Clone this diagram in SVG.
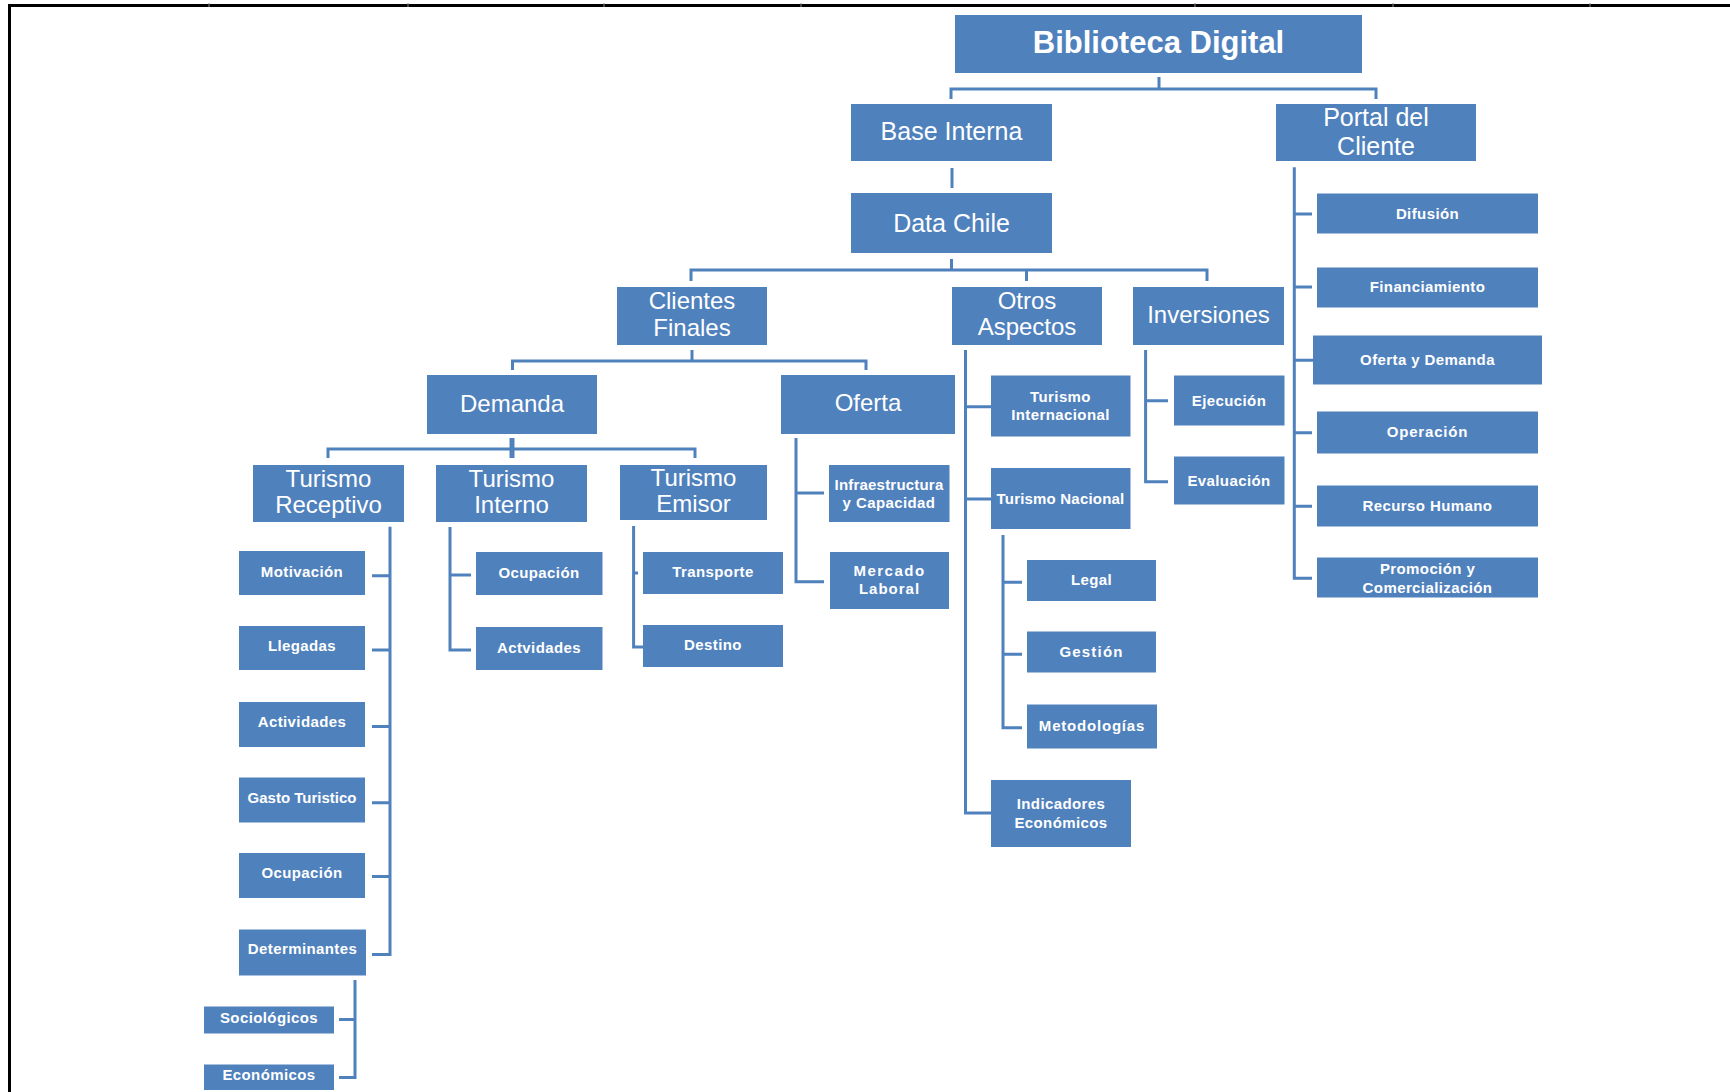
<svg xmlns="http://www.w3.org/2000/svg" width="1730" height="1092" viewBox="0 0 1730 1092">
  <style>
    .box { fill: #4f81bd; }
    .frame { stroke: #000; stroke-width: 3; fill: none; }
    .tick { stroke: #888; stroke-width: 1; }
    .ln { stroke: #4f81bd; stroke-width: 3; fill: none; }
    text { fill: #fff; font-family: "Liberation Sans", Arial, sans-serif; text-anchor: middle; }
    .xl { font-size: 31px; font-weight: bold; }
    .l { font-size: 25px; }
    .m { font-size: 24px; }
    .s { font-size: 15px; font-weight: bold; letter-spacing: 0.4px; }
  </style>

  <rect width="1730" height="1092" fill="#fff"/>

  <!-- sheet border -->
  <path class="frame" d="M9.5 1092 V5.5 H1730"/>
  <g>
    <line class="tick" x1="209" y1="3" x2="209" y2="7"/>
    <line class="tick" x1="408" y1="3" x2="408" y2="7"/>
    <line class="tick" x1="604" y1="3" x2="604" y2="7"/>
    <line class="tick" x1="801" y1="3" x2="801" y2="7"/>
    <line class="tick" x1="1195" y1="3" x2="1195" y2="7"/>
    <line class="tick" x1="1393" y1="3" x2="1393" y2="7"/>
    <line class="tick" x1="1590" y1="3" x2="1590" y2="7"/>
  </g>

  <!-- connectors -->
  <g id="connectors">
    <!-- Biblioteca Digital -->
    <path class="ln" d="M1159 77 V89 M951 99 V89 H1376 V99"/>
    <!-- Base Interna to Data Chile -->
    <path class="ln" d="M952 168 V188"/>
    <!-- Data Chile -->
    <path class="ln" d="M951.5 259 V270 M691 281 V270 H1207 V281 M1026.5 270 V281"/>
    <!-- Clientes Finales -->
    <path class="ln" d="M692 350 V361 M512.5 370 V361 H866 V370"/>
    <!-- Demanda -->
    <path class="ln" d="M328 458 V449 H695 V458"/>
    <path class="ln" style="stroke-width:5" d="M512 438 V458"/>
    <!-- Turismo Receptivo -->
    <path class="ln" d="M390 526.7 V954.5 H372 M372 575.7 H390 M372 650 H390 M372 726.5 H390 M372 802.7 H390 M372 876.4 H390"/>
    <!-- Determinantes -->
    <path class="ln" d="M355 980 V1077.4 H339 M339 1019.5 H355"/>
    <!-- Turismo Interno -->
    <path class="ln" d="M450 527 V650 H471 M450 575 H471"/>
    <!-- Turismo Emisor -->
    <path class="ln" d="M633.6 526 V647 H643 M633.6 573 H638"/>
    <!-- Oferta -->
    <path class="ln" d="M796 438 V581.7 H824 M796 493 H824"/>
    <!-- Otros Aspectos -->
    <path class="ln" d="M965.5 350 V813 H991 M965.5 406.7 H991 M965.5 499 H991"/>
    <!-- Turismo Nacional -->
    <path class="ln" d="M1003 535 V727.7 H1022 M1003 582.3 H1022 M1003 654.3 H1022"/>
    <!-- Inversiones -->
    <path class="ln" d="M1145.6 350 V481.7 H1168 M1145.6 400.7 H1168"/>
    <!-- Portal del Cliente -->
    <path class="ln" d="M1294.3 167.3 V578.3 H1312 M1294.3 214 H1312 M1294.3 287 H1312 M1294.3 360.3 H1313 M1294.3 432.7 H1312 M1294.3 506.3 H1312"/>
  </g>

  <!-- top levels -->
  <g id="biblioteca-digital">
    <rect class="box" x="955" y="15" width="407" height="58"/>
    <text class="xl" x="1158.5" y="53">Biblioteca Digital</text>
  </g>
  <g id="base-interna">
    <rect class="box" x="851" y="104" width="201" height="57"/>
    <text class="l" x="951.5" y="140">Base Interna</text>
  </g>
  <g id="portal-del-cliente">
    <rect class="box" x="1276" y="104" width="200" height="57"/>
    <text class="l" x="1376" y="126">Portal del</text>
    <text class="l" x="1376" y="155">Cliente</text>
  </g>
  <g id="data-chile">
    <rect class="box" x="851" y="193" width="201" height="60"/>
    <text class="l" x="951.5" y="231.5">Data Chile</text>
  </g>
  <g id="clientes-finales">
    <rect class="box" x="617" y="287" width="150" height="58"/>
    <text class="m" x="692" y="309">Clientes</text>
    <text class="m" x="692" y="335.5">Finales</text>
  </g>
  <g id="otros-aspectos">
    <rect class="box" x="952" y="287" width="150" height="58"/>
    <text class="m" x="1027" y="308.5">Otros</text>
    <text class="m" x="1027" y="335">Aspectos</text>
  </g>
  <g id="inversiones">
    <rect class="box" x="1133" y="287" width="151" height="58"/>
    <text class="m" x="1208.5" y="323">Inversiones</text>
  </g>
  <g id="demanda">
    <rect class="box" x="427" y="375" width="170" height="59"/>
    <text class="m" x="512" y="411.5">Demanda</text>
  </g>
  <g id="oferta">
    <rect class="box" x="781" y="375" width="174" height="59"/>
    <text class="m" x="868" y="411">Oferta</text>
  </g>
  <g id="turismo-receptivo">
    <rect class="box" x="253" y="465" width="151" height="57"/>
    <text class="m" x="328.5" y="486.5">Turismo</text>
    <text class="m" x="328.5" y="513">Receptivo</text>
  </g>
  <g id="turismo-interno">
    <rect class="box" x="436" y="465" width="151" height="57"/>
    <text class="m" x="511.5" y="486.5">Turismo</text>
    <text class="m" x="511.5" y="513">Interno</text>
  </g>
  <g id="turismo-emisor">
    <rect class="box" x="620" y="465" width="147" height="55"/>
    <text class="m" x="693.5" y="486">Turismo</text>
    <text class="m" x="693.5" y="512">Emisor</text>
  </g>

  <!-- Turismo Receptivo items -->
  <g id="motivacion">
    <rect class="box" x="239" y="551" width="126" height="44"/>
    <text class="s" x="302" y="576.5">Motivación</text>
  </g>
  <g id="llegadas">
    <rect class="box" x="239" y="626" width="126" height="44"/>
    <text class="s" x="302" y="651">Llegadas</text>
  </g>
  <g id="actividades-receptivo">
    <rect class="box" x="239" y="702" width="126" height="45"/>
    <text class="s" x="302" y="727">Actividades</text>
  </g>
  <g id="gasto-turistico">
    <rect class="box" x="239" y="777.5" width="126" height="45"/>
    <text class="s" x="302" y="802.5" style="letter-spacing:0">Gasto Turistico</text>
  </g>
  <g id="ocupacion-receptivo">
    <rect class="box" x="239" y="853" width="126" height="45"/>
    <text class="s" x="302" y="878">Ocupación</text>
  </g>
  <g id="determinantes">
    <rect class="box" x="239" y="929.5" width="127" height="46"/>
    <text class="s" x="302.5" y="954">Determinantes</text>
  </g>
  <g id="sociologicos">
    <rect class="box" x="204" y="1006.5" width="130" height="27"/>
    <text class="s" x="269" y="1023">Sociológicos</text>
  </g>
  <g id="economicos">
    <rect class="box" x="204" y="1064.5" width="130" height="25.5"/>
    <text class="s" x="269" y="1080">Económicos</text>
  </g>

  <!-- Turismo Interno items -->
  <g id="ocupacion-interno">
    <rect class="box" x="476" y="552" width="126.5" height="43"/>
    <text class="s" x="539" y="578">Ocupación</text>
  </g>
  <g id="actvidades-interno">
    <rect class="box" x="476" y="627" width="126.5" height="43"/>
    <text class="s" x="539" y="653">Actvidades</text>
  </g>

  <!-- Turismo Emisor items -->
  <g id="transporte">
    <rect class="box" x="643" y="552" width="140" height="42"/>
    <text class="s" x="713" y="577">Transporte</text>
  </g>
  <g id="destino">
    <rect class="box" x="643" y="625" width="140" height="42"/>
    <text class="s" x="713" y="649.5">Destino</text>
  </g>

  <!-- Oferta items -->
  <g id="infraestructura">
    <rect class="box" x="829" y="465" width="120.5" height="57"/>
    <text class="s" x="889" y="489.5" style="letter-spacing:0.2px">Infraestructura</text>
    <text class="s" x="889" y="507.5">y Capacidad</text>
  </g>
  <g id="mercado-laboral">
    <rect class="box" x="830" y="552" width="119" height="57"/>
    <text class="s" x="889.5" y="575.5" style="letter-spacing:1.5px">Mercado</text>
    <text class="s" x="889.5" y="594" style="letter-spacing:1px">Laboral</text>
  </g>

  <!-- Otros Aspectos items -->
  <g id="turismo-internacional">
    <rect class="box" x="991" y="375.5" width="139.5" height="61"/>
    <text class="s" x="1060.5" y="401.5">Turismo</text>
    <text class="s" x="1060.5" y="420">Internacional</text>
  </g>
  <g id="turismo-nacional">
    <rect class="box" x="991" y="468" width="139.5" height="61"/>
    <text class="s" x="1060.5" y="504" style="letter-spacing:0.2px">Turismo Nacional</text>
  </g>
  <g id="legal">
    <rect class="box" x="1027" y="560" width="129" height="41"/>
    <text class="s" x="1091.5" y="585">Legal</text>
  </g>
  <g id="gestion">
    <rect class="box" x="1027" y="631.5" width="129" height="41"/>
    <text class="s" x="1091.5" y="657" style="letter-spacing:1.2px">Gestión</text>
  </g>
  <g id="metodologias">
    <rect class="box" x="1027" y="704.5" width="130" height="44"/>
    <text class="s" x="1092" y="731" style="letter-spacing:0.8px">Metodologías</text>
  </g>
  <g id="indicadores-economicos">
    <rect class="box" x="991" y="780" width="140" height="67"/>
    <text class="s" x="1061" y="809">Indicadores</text>
    <text class="s" x="1061" y="828">Económicos</text>
  </g>

  <!-- Inversiones items -->
  <g id="ejecucion">
    <rect class="box" x="1174" y="375.5" width="110.5" height="50"/>
    <text class="s" x="1229" y="405.5">Ejecución</text>
  </g>
  <g id="evaluacion">
    <rect class="box" x="1174" y="456.5" width="110.5" height="48"/>
    <text class="s" x="1229" y="486">Evaluación</text>
  </g>

  <!-- Portal del Cliente items -->
  <g id="difusion">
    <rect class="box" x="1317" y="193.5" width="221" height="40"/>
    <text class="s" x="1427.5" y="219">Difusión</text>
  </g>
  <g id="financiamiento">
    <rect class="box" x="1317" y="267.5" width="221" height="40"/>
    <text class="s" x="1427.5" y="292">Financiamiento</text>
  </g>
  <g id="oferta-y-demanda">
    <rect class="box" x="1313" y="335.5" width="229" height="49"/>
    <text class="s" x="1427.5" y="365">Oferta y Demanda</text>
  </g>
  <g id="operacion">
    <rect class="box" x="1317" y="411.5" width="221" height="42"/>
    <text class="s" x="1427.5" y="437" style="letter-spacing:0.8px">Operación</text>
  </g>
  <g id="recurso-humano">
    <rect class="box" x="1317" y="485.5" width="221" height="41"/>
    <text class="s" x="1427.5" y="510.5">Recurso Humano</text>
  </g>
  <g id="promocion-y-comercializacion">
    <rect class="box" x="1317" y="557.5" width="221" height="40"/>
    <text class="s" x="1427.5" y="574">Promoción y</text>
    <text class="s" x="1427.5" y="593">Comercialización</text>
  </g>
</svg>
